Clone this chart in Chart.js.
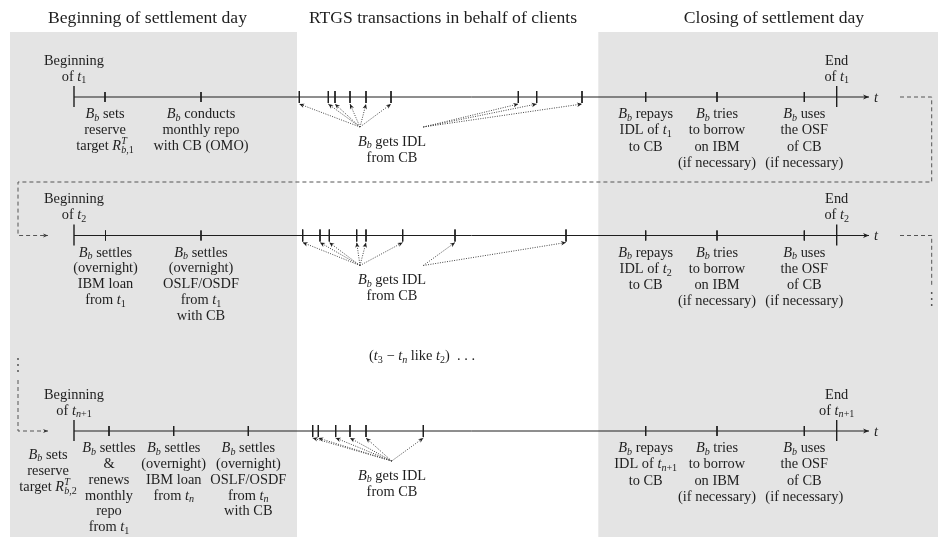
<!DOCTYPE html>
<html>
<head>
<meta charset="utf-8">
<script src="https://cdn.jsdelivr.net/npm/chart.js@4.4.1/dist/chart.umd.min.js"></script>
<style>
html, body { margin: 0; padding: 0; background: #fff; }
canvas { display: block; }
</style>
</head>
<body>
<canvas id="timeline" width="938" height="538"></canvas>
<script>
const FONT = '"Liberation Serif", "DejaVu Serif", serif';
const INK = '#1e1e1e';
const PANEL = '#e4e4e4';

// section headings
const sections = ['Beginning of settlement day', 'RTGS transactions in behalf of clients', 'Closing of settlement day'];

// one row per settlement day
const dayNames = ['t_1', 't_2', 't_{n+1}'];
const rowLevels = [97, 235.5, 431];

const dayStart = 74;
const dayEnd = 836.7;
const axisTip = 869;

// event times on each day
const openTicks = [[105, 201], [105.5, 201], [109, 173.7, 248.3]];
const rtgsTicks = [
  [299.3, 328.3, 335, 350, 366, 391, 518.3, 536.7, 582],
  [302.7, 320, 329.3, 356.7, 366, 402.7, 455, 566],
  [312.7, 318.3, 335.7, 350, 366, 423.3]
];
const idlNodes = [[360, 423.3], [360, 423.3], [391.7]];
const idlLinks = [
  [0, 0, 0, 0, 0, 0, 1, 1, 1],
  [0, 0, 0, 0, 0, 0, 1, 1],
  [0, 0, 0, 0, 0, 0]
];
const closeTicks = [645.7, 717, 804.3];

// texts
const openLabels = [
  [['$B_b$ sets', 'reserve', 'target $R^T_{b,1}$'],
   ['$B_b$ conducts', 'monthly repo', 'with CB (OMO)']],
  [['$B_b$ settles', '(overnight)', 'IBM loan', 'from $t_1$'],
   ['$B_b$ settles', '(overnight)', 'OSLF/OSDF', 'from $t_1$', 'with CB']],
  [['$B_b$ settles', '&', 'renews', 'monthly', 'repo', 'from $t_1$'],
   ['$B_b$ settles', '(overnight)', 'IBM loan', 'from $t_n$'],
   ['$B_b$ settles', '(overnight)', 'OSLF/OSDF', 'from $t_n$', 'with CB']]
];
const leadLabels = [null, null, ['$B_b$ sets', 'reserve', 'target $R^T_{b,2}$']];
const closeLabels = dayNames.map(t => [
  ['$B_b$ repays', 'IDL of $' + t + '$', 'to CB'],
  ['$B_b$ tries', 'to borrow', 'on IBM', '(if necessary)'],
  ['$B_b$ uses', 'the OSF', 'of CB', '(if necessary)']
]);
const idlText = ['$B_b$ gets IDL', 'from CB'];
const skipText = '($t_3 − t_n$ like $t_2$)  . . .';

// layout
const panels = [[10, 297, 32, 537], [598.3, 938, 32, 537]];
const sectionX = [147.5, 443, 774];

function segs(list) {
  const out = [];
  list.forEach(s => {
    s.forEach(([a, b]) => out.push({ x: a, y: b }));
    out.push({ x: s[0][0], y: null });
  });
  return out;
}

const datasets = [];
rowLevels.forEach((lv, r) => {
  datasets.push({ data: [{ x: dayStart, y: lv }, { x: axisTip, y: lv }], borderColor: INK, borderWidth: 1, head: [6, 2.4] });
  datasets.push({
    data: segs([[[dayStart, lv - 11], [dayStart, lv + 10]], [[dayEnd, lv - 11], [dayEnd, lv + 10]]]),
    borderColor: INK, borderWidth: 1.4
  });
  const minor = openTicks[r].concat(closeTicks).map(t => [[t, lv - 5], [t, lv + 5]])
    .concat(rtgsTicks[r].map(t => [[t, lv - 6], [t, lv + 6]]));
  datasets.push({ data: segs(minor), borderColor: INK, borderWidth: 1 });
  datasets.push({
    data: segs(rtgsTicks[r].map((t, i) => [[idlNodes[r][idlLinks[r][i]], lv + 30], [t, lv + 7]])),
    borderColor: '#444', borderWidth: 1, borderDash: [1, 1.4], head: [5, 2.2], headColor: INK
  });
});

// dashed links between days
datasets.push({
  data: segs([
    [[900, rowLevels[0]], [931.7, rowLevels[0]], [931.7, 182], [18, 182], [18, rowLevels[1]], [48, rowLevels[1]]],
    [[18, 380], [18, rowLevels[2]], [48, rowLevels[2]]]
  ]),
  borderColor: '#555', borderWidth: 1, borderDash: [4, 3], head: [5, 2], headColor: '#333'
});
datasets.push({
  data: segs([[[900, rowLevels[1]], [931.7, rowLevels[1]], [931.7, 287]]]),
  borderColor: '#555', borderWidth: 1, borderDash: [4, 3]
});
datasets.push({
  data: [{ x: 931.7, y: 293 }, { x: 931.7, y: 299 }, { x: 931.7, y: 305 },
         { x: 18, y: 359 }, { x: 18, y: 365 }, { x: 18, y: 371 }],
  showLine: false, pointRadius: 0.9, pointHoverRadius: 0.9, pointBackgroundColor: '#444', pointBorderWidth: 0
});

function parseRich(str) {
  const toks = [];
  str.split('$').forEach((part, k) => {
    if (k % 2 === 0) { if (part) toks.push({ t: part, it: false, lvl: 0 }); return; }
    let i = 0;
    while (i < part.length) {
      const c = part[i];
      if (c === '_' || c === '^') {
        let g;
        if (part[i + 1] === '{') { const j = part.indexOf('}', i); g = part.slice(i + 2, j); i = j + 1; }
        else { g = part[i + 1]; i += 2; }
        const lvl = c === '_' ? -1 : 1;
        const prev = toks[toks.length - 1];
        toks.push({ t: g, lvl, group: true, stack: !!(prev && prev.group && prev.lvl === -lvl && !prev.stack) });
      } else if (c === ' ') {
        i++;
      } else if (c === '−') {
        toks.push({ t: ' − ', it: false, lvl: 0 }); i++;
      } else {
        toks.push({ t: c, it: /[A-Za-z]/.test(c), lvl: 0 }); i++;
      }
    }
  });
  return toks;
}

function layoutRich(ctx, str, size) {
  const pieces = [];
  let x = 0, gStart = 0, gW = 0;
  parseRich(str).forEach(tk => {
    const s = tk.lvl ? size * 0.7 : size;
    const dy = tk.lvl < 0 ? size * 0.2 : tk.lvl > 0 ? -size * 0.4 : 0;
    const x0 = tk.stack ? gStart : x;
    let w = 0;
    const chars = tk.group ? Array.from(tk.t) : [tk.t];
    chars.forEach(ch => {
      const it = tk.group ? /[A-Za-z]/.test(ch) : tk.it;
      const font = (it ? 'italic ' : '') + s.toFixed(1) + 'px ' + FONT;
      ctx.font = font;
      pieces.push({ ch, font, x: x0 + w, dy });
      w += ctx.measureText(ch).width;
    });
    if (tk.stack) x = gStart + Math.max(w, gW);
    else { gStart = x0; gW = w; x = x0 + w; }
  });
  return { pieces, width: x };
}

function drawText(ctx, str, cx, cy, size, align) {
  const L = layoutRich(ctx, str, size);
  const left = align === 'left' ? cx : cx - L.width / 2;
  const base = cy + size * 0.32;
  L.pieces.forEach(p => {
    ctx.font = p.font;
    ctx.fillText(p.ch, left + p.x, base + p.dy);
  });
}

function drawBlock(ctx, lines, cx, cy, step, size) {
  lines.forEach((l, i) => drawText(ctx, l, cx, cy + i * step, size));
}

const panelPlugin = {
  id: 'panels',
  beforeDraw(chart) {
    const { ctx, scales: { x, y } } = chart;
    ctx.save();
    ctx.fillStyle = PANEL;
    panels.forEach(([x0, x1, y0, y1]) => {
      const a = x.getPixelForValue(x0), b = x.getPixelForValue(x1);
      const c = y.getPixelForValue(y0), d = y.getPixelForValue(y1);
      ctx.fillRect(a, c, b - a, d - c);
    });
    ctx.restore();
  }
};

const arrowPlugin = {
  id: 'heads',
  afterDatasetsDraw(chart) {
    const ctx = chart.ctx;
    chart.data.datasets.forEach((ds, i) => {
      if (!ds.head) return;
      const pts = chart.getDatasetMeta(i).data;
      const [len, wid] = ds.head;
      ctx.save();
      ctx.fillStyle = ds.headColor || ds.borderColor;
      for (let j = 1; j < pts.length; j++) {
        const p = pts[j], q = pts[j - 1];
        if (p.skip || q.skip) continue;
        const nxt = pts[j + 1];
        if (nxt && !nxt.skip) continue;
        const ang = Math.atan2(p.y - q.y, p.x - q.x);
        ctx.beginPath();
        ctx.moveTo(p.x, p.y);
        ctx.lineTo(p.x - len * Math.cos(ang) + wid * Math.sin(ang), p.y - len * Math.sin(ang) - wid * Math.cos(ang));
        ctx.lineTo(p.x - len * 0.7 * Math.cos(ang), p.y - len * 0.7 * Math.sin(ang));
        ctx.lineTo(p.x - len * Math.cos(ang) - wid * Math.sin(ang), p.y - len * Math.sin(ang) + wid * Math.cos(ang));
        ctx.closePath();
        ctx.fill();
      }
      ctx.restore();
    });
  }
};

const textPlugin = {
  id: 'texts',
  afterDraw(chart) {
    const { ctx, scales: { x, y } } = chart;
    const px = v => x.getPixelForValue(v);
    const py = v => y.getPixelForValue(v);
    ctx.save();
    ctx.fillStyle = INK;
    ctx.textAlign = 'left';
    ctx.textBaseline = 'alphabetic';
    sections.forEach((s, i) => drawText(ctx, s, px(sectionX[i]), py(17), 17.6));
    rowLevels.forEach((lv, r) => {
      const t = dayNames[r];
      drawBlock(ctx, ['Beginning', 'of $' + t + '$'], px(dayStart), py(lv - 37), 16, 14.4);
      drawBlock(ctx, ['End', 'of $' + t + '$'], px(dayEnd), py(lv - 37), 16, 14.4);
      drawText(ctx, '$t$', px(axisTip + 5), py(lv), 14.4, 'left');
      openLabels[r].forEach((lines, k) => drawBlock(ctx, lines, px(openTicks[r][k]), py(lv + 16.5), 15.8, 14.4));
      if (leadLabels[r]) drawBlock(ctx, leadLabels[r], px(48), py(lv + 23), 16.2, 14.4);
      closeLabels[r].forEach((lines, k) => drawBlock(ctx, lines, px(closeTicks[k]), py(lv + 16.5), 16.2, 14.4));
      drawBlock(ctx, idlText, px(392), py(lv + 44), 16, 14.4);
    });
    drawText(ctx, skipText, px(422), py(355.7), 14.4);
    ctx.restore();
  }
};

const chart = new Chart(document.getElementById('timeline').getContext('2d'), {
  type: 'line',
  data: { datasets },
  options: {
    responsive: false,
    animation: false,
    events: [],
    layout: { padding: 0, autoPadding: false },
    plugins: { legend: { display: false }, tooltip: { enabled: false } },
    elements: { point: { radius: 0, hoverRadius: 0 }, line: { tension: 0 } },
    scales: {
      x: { type: 'linear', min: 0, max: 938, display: false },
      y: { type: 'linear', min: 0, max: 538, reverse: true, display: false }
    }
  },
  plugins: [panelPlugin, arrowPlugin, textPlugin]
});
</script>
</body>
</html>
